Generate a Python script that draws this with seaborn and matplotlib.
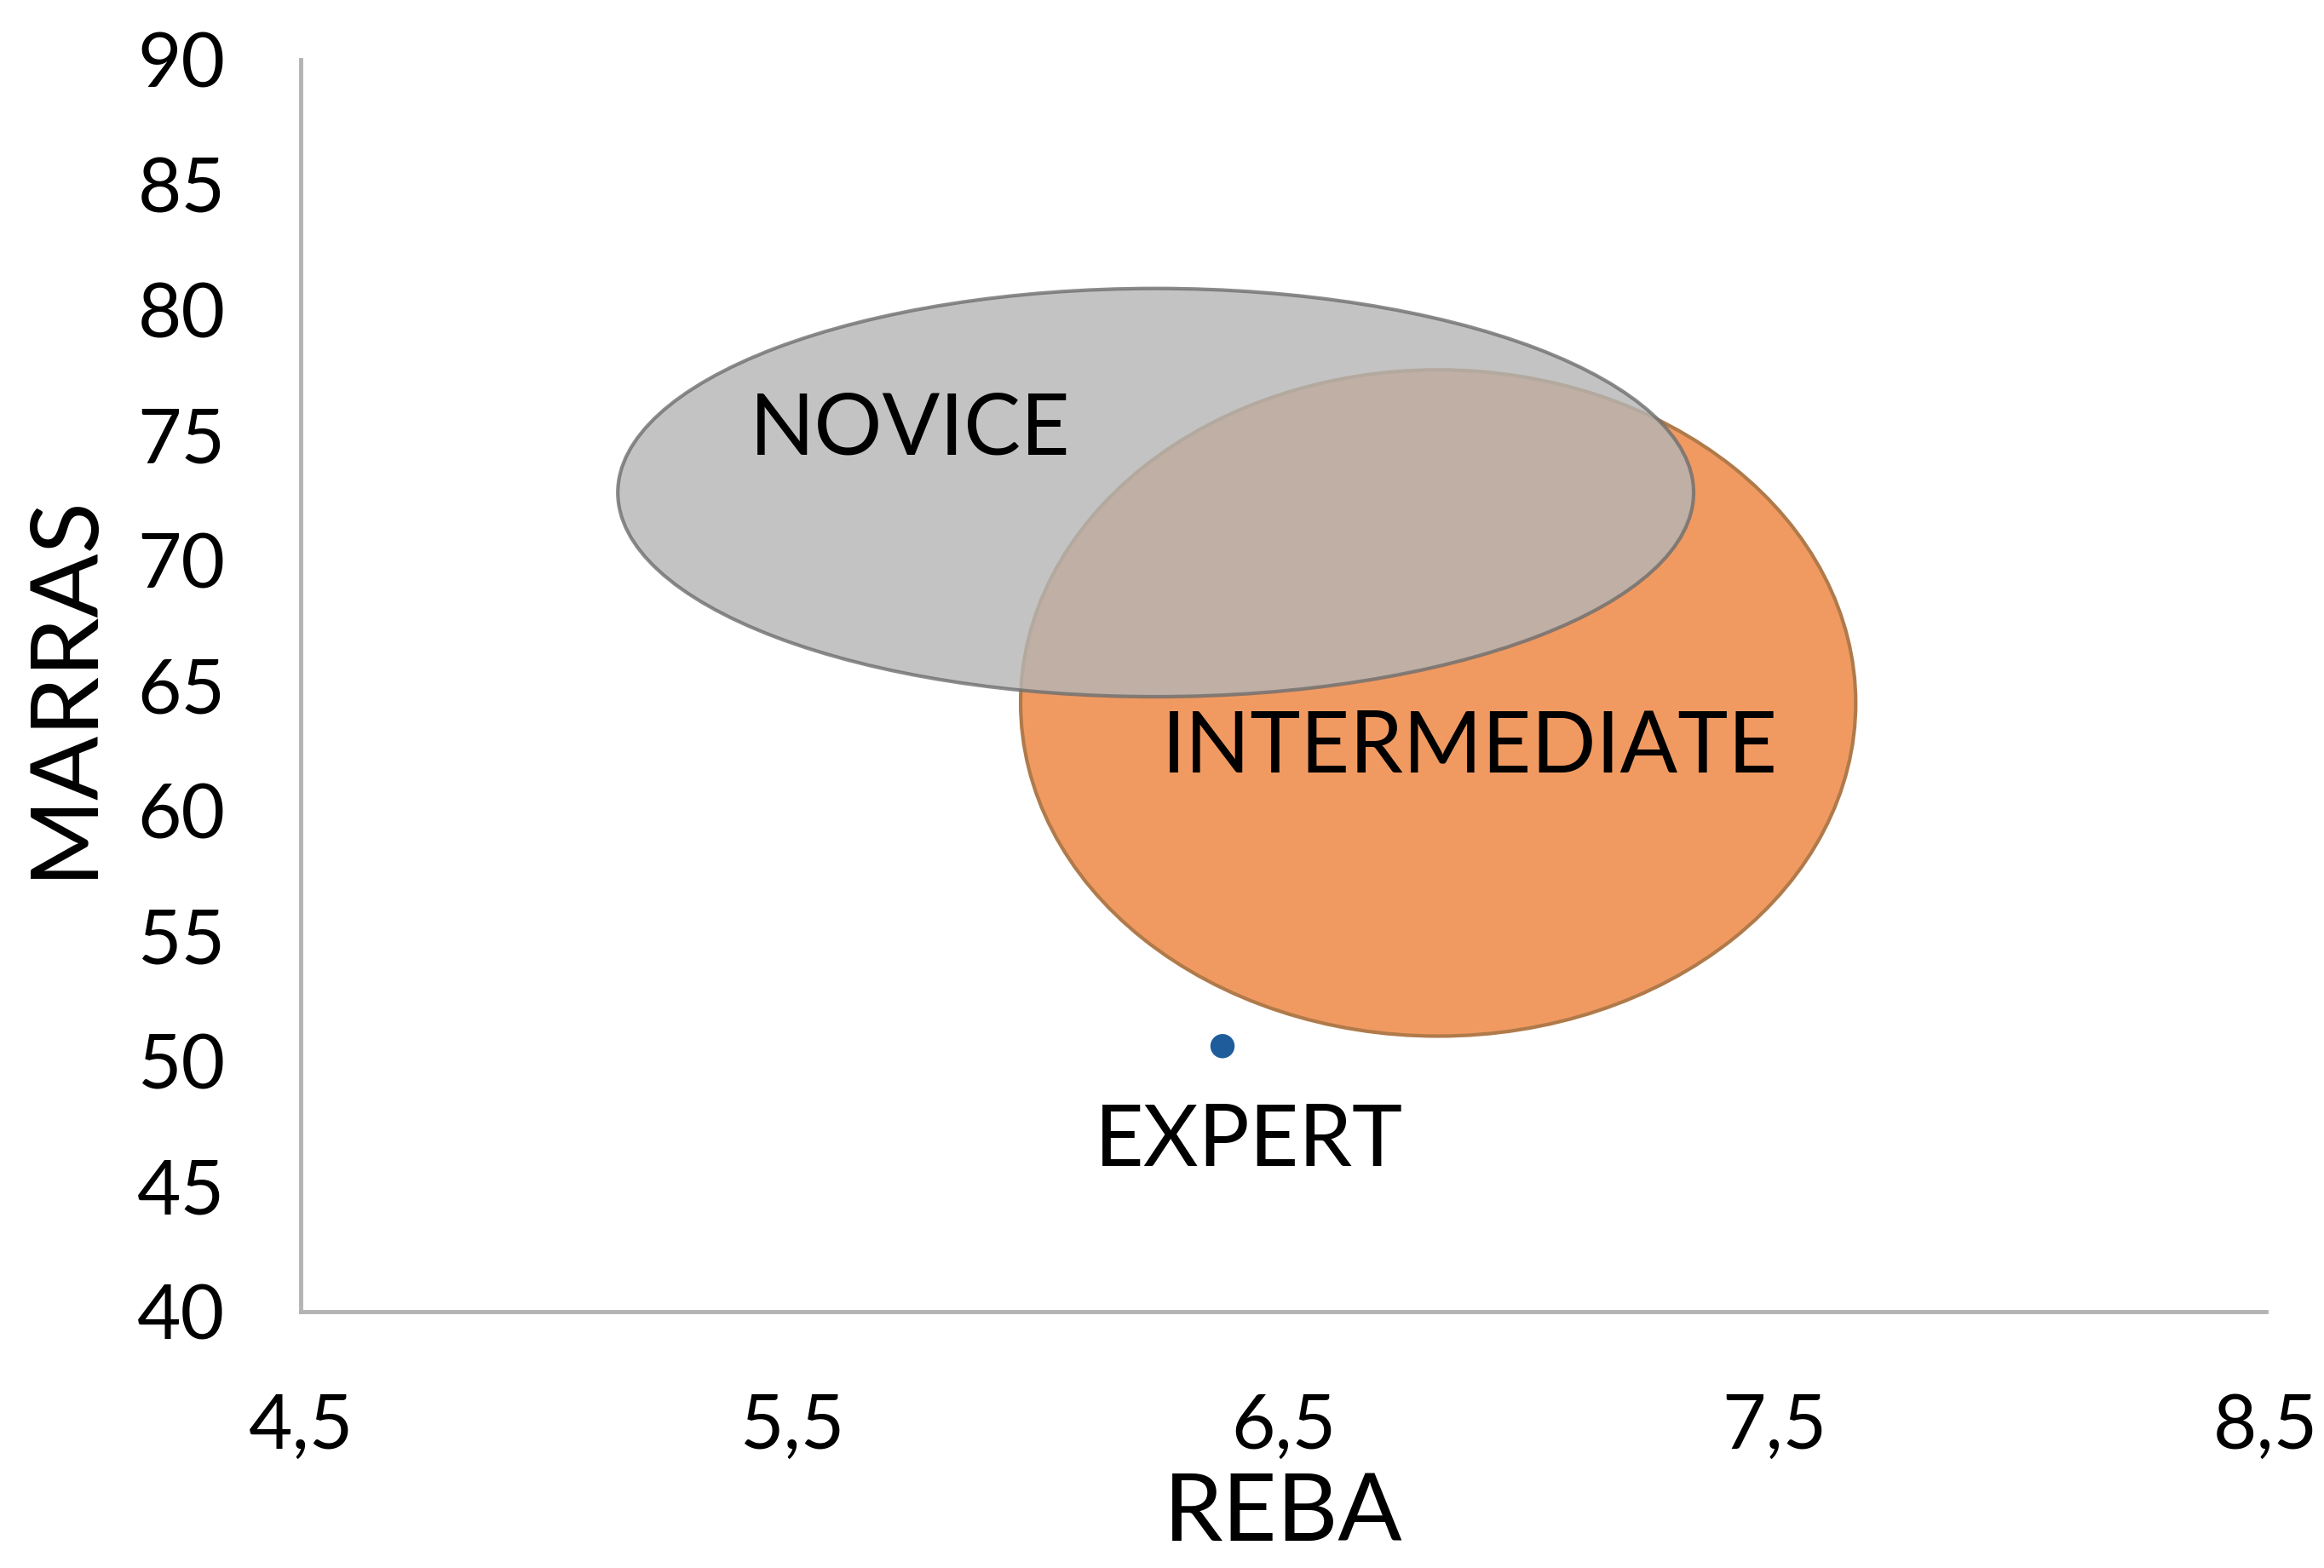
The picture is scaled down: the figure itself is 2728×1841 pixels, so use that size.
import matplotlib
matplotlib.use("Agg")
import matplotlib.pyplot as plt
from matplotlib.patches import Ellipse
from matplotlib.ticker import FuncFormatter
import seaborn as sns
import pandas as pd

# ---- data ----
groups = ["NOVICE", "INTERMEDIATE"]
ellipse_reba = [6.24, 6.815]      # centre on REBA axis
ellipse_marras = [72.7, 64.3]     # centre on MARRAS axis
ellipse_width = [2.19, 1.70]      # REBA extent
ellipse_height = [16.3, 26.6]     # MARRAS extent
label_reba = [5.74, 6.88]
label_marras = [75.2, 62.5]

expert_reba = [6.376]
expert_marras = [50.6]
expert_label = "EXPERT"
expert_label_pos = (6.43, 46.8)

x_ticks = [4.5, 5.5, 6.5, 7.5, 8.5]
y_ticks = [40, 45, 50, 55, 60, 65, 70, 75, 80, 85, 90]

sns.set_theme(style="white")
plt.rcParams['font.family'] = ['Lato', 'DejaVu Sans']

fig = plt.figure(figsize=(27.28, 18.41), dpi=100)
ax = fig.add_axes([0.1295, 0.1635, 0.8455, 0.7987])

face = {"NOVICE": ("#b5b5b5", 0.8, "#6e6e6e"), "INTERMEDIATE": ("#f09a62", 1.0, "#b07a4a")}
order = ["INTERMEDIATE", "NOVICE"]
for g in order:
    i = groups.index(g)
    fc, a, ec = face[g]
    e = Ellipse((ellipse_reba[i], ellipse_marras[i]), ellipse_width[i], ellipse_height[i],
                facecolor=fc, alpha=a, edgecolor=ec, linewidth=3.0,
                zorder=2 if g == "INTERMEDIATE" else 3)
    ax.add_patch(e)

for i, g in enumerate(groups):
    ax.text(label_reba[i], label_marras[i], g, ha="center", va="center",
            fontsize=72, color="black", zorder=5)

df = pd.DataFrame({"REBA": expert_reba, "MARRAS": expert_marras})
sns.scatterplot(data=df, x="REBA", y="MARRAS", ax=ax, s=420, color="#1f5c9c",
                edgecolor="none", zorder=6)
ax.text(expert_label_pos[0], expert_label_pos[1], expert_label, ha="center", va="center",
        fontsize=72, color="black", zorder=5)

ax.set_xlim(4.5, 8.5)
ax.set_ylim(40, 90)
ax.set_xticks(x_ticks)
ax.set_yticks(y_ticks)
ax.xaxis.set_major_formatter(FuncFormatter(lambda v, p: f"{v:.1f}".replace(".", ",")))
ax.yaxis.set_major_formatter(FuncFormatter(lambda v, p: f"{int(v)}"))
ax.tick_params(axis="both", length=0, labelsize=64, colors="black")
ax.tick_params(axis="x", pad=68)
ax.tick_params(axis="y", pad=64)

for s in ["top", "right"]:
    ax.spines[s].set_visible(False)
for s in ["left", "bottom"]:
    ax.spines[s].set_color("#b3b3b3")
    ax.spines[s].set_linewidth(3.5)

ax.set_xlabel("REBA", fontsize=80, labelpad=8, color="black")
ax.set_ylabel("MARRAS", fontsize=80, labelpad=26, color="black")

fig.savefig("out.png", dpi=100, facecolor="white")
